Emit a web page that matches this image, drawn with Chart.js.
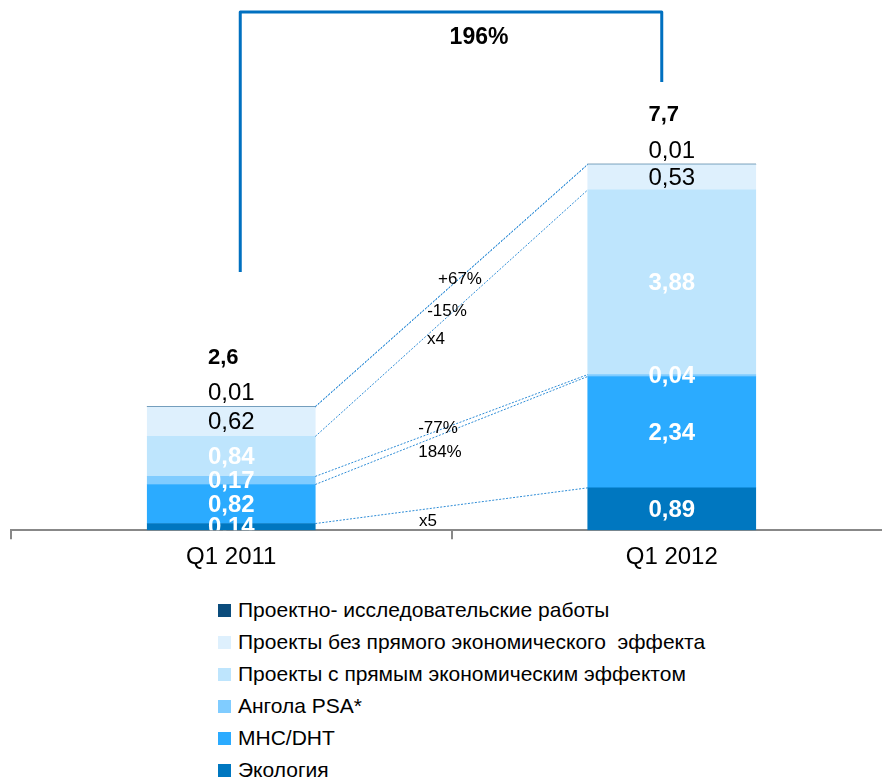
<!DOCTYPE html>
<html>
<head>
<meta charset="utf-8">
<script src="https://cdn.jsdelivr.net/npm/chart.js@4.4.1/dist/chart.umd.min.js"></script>
<style>
  html, body { margin: 0; padding: 0; background: #fff; width: 882px; height: 782px; overflow: hidden; }
  #wrap { position: absolute; left: 0; top: 0; width: 892px; height: 576px; }
  #legend { position: absolute; left: 218px; top: 594px; font-family: "Liberation Sans", Arial, sans-serif; font-size: 21px; color: #000; }
  .row { height: 32px; display: flex; align-items: center; white-space: pre; }
  .sw { width: 13px; height: 13px; margin-right: 7px; flex: none; }
</style>
</head>
<body>
<div id="wrap"><canvas id="c" width="892" height="576"></canvas></div>
<div id="legend"></div>
<script>
// ---- data ----
const categories = ['Q1 2011', 'Q1 2012'];
const seriesNames = [
  'Экология',
  'МНС/DHT',
  'Ангола PSA*',
  'Проекты с прямым экономическим эффектом',
  'Проекты без прямого экономического  эффекта',
  'Проектно- исследовательские работы'
];
const ecology   = [0.14, 0.89];
const mhcDht    = [0.82, 2.34];
const angola    = [0.17, 0.04];
const directFx  = [0.84, 3.88];
const indirectFx= [0.62, 0.53];
const research  = [0.01, 0.01];
const totalLabels = ['2,6', '7,7'];
const changeLabels = ['+67%', '-15%', 'x4', '-77%', '184%', 'x5'];
const growthLabel = '196%';
const legendOrder = [5, 4, 3, 2, 1, 0];

// ---- styles ----
const colors = ['#0077C0', '#2BABFF', '#80CCFF', '#BEE5FD', '#DEF0FD', '#0B4C7C'];
const FONT = '"Liberation Sans", Arial, sans-serif';
const changePos = [[460, 279], [447, 311], [436, 339], [438, 428], [440, 452], [428, 521]];

const seriesValues = [ecology, mhcDht, angola, directFx, indirectFx, research];

const overlay = {
  id: 'overlay',
  afterDatasetsDraw(chart) {
    const ctx = chart.ctx;
    const area = chart.chartArea;
    const metas = chart.data.datasets.map((d, i) => chart.getDatasetMeta(i));

    // connector lines between the bars
    ctx.save();
    ctx.strokeStyle = '#2E8CD6';
    ctx.lineWidth = 1;
    ctx.setLineDash([2, 1.5]);
    metas.forEach(m => {
      const a = m.data[0], b = m.data[1];
      ctx.beginPath();
      ctx.moveTo(a.x + a.width / 2, a.y);
      ctx.lineTo(b.x - b.width / 2, b.y);
      ctx.stroke();
    });
    ctx.restore();

    // change labels
    ctx.save();
    ctx.fillStyle = '#000';
    ctx.font = '17px ' + FONT;
    ctx.textAlign = 'center';
    ctx.textBaseline = 'middle';
    changeLabels.forEach((t, i) => ctx.fillText(t, changePos[i][0], changePos[i][1]));
    ctx.restore();

    // segment value labels
    ctx.save();
    ctx.beginPath();
    ctx.rect(area.left, area.top, area.right - area.left, area.bottom - area.top);
    ctx.clip();
    ctx.textAlign = 'center';
    ctx.textBaseline = 'middle';
    metas.forEach((m, i) => {
      m.data.forEach((el, j) => {
        const txt = seriesValues[i][j].toFixed(2).replace('.', ',');
        if (i === 5) {
          ctx.font = '24px ' + FONT;
          ctx.fillStyle = '#000';
          ctx.fillText(txt, el.x, el.y - 13);
        } else if (i === 4) {
          ctx.font = '24px ' + FONT;
          ctx.fillStyle = '#000';
          ctx.fillText(txt, el.x, (el.y + el.base) / 2 + 1);
        } else {
          ctx.font = 'bold 24px ' + FONT;
          ctx.fillStyle = '#fff';
          ctx.fillText(txt, el.x, (el.y + el.base) / 2 + 1);
        }
      });
    });
    ctx.restore();

    // totals
    ctx.save();
    ctx.font = 'bold 22px ' + FONT;
    ctx.fillStyle = '#000';
    ctx.textAlign = 'center';
    ctx.textBaseline = 'middle';
    const top = metas[5];
    top.data.forEach((el, j) => ctx.fillText(totalLabels[j], el.x - 8, el.y - 49));
    ctx.restore();

    // growth bracket
    const xs = chart.scales.x;
    const x1 = xs.getPixelForValue(0) + 9;
    const x2 = xs.getPixelForValue(1) - 10;
    ctx.save();
    ctx.strokeStyle = '#0070C0';
    ctx.lineWidth = 3;
    ctx.lineJoin = 'round';
    ctx.beginPath();
    ctx.moveTo(x1, 272);
    ctx.lineTo(x1, 12);
    ctx.lineTo(x2, 12);
    ctx.lineTo(x2, 82);
    ctx.stroke();
    ctx.font = 'bold 23px ' + FONT;
    ctx.fillStyle = '#000';
    ctx.textAlign = 'center';
    ctx.textBaseline = 'middle';
    ctx.fillText(growthLabel, 479, 38);
    ctx.restore();
  }
};

new Chart(document.getElementById('c'), {
  type: 'bar',
  data: {
    labels: categories,
    datasets: seriesValues.map((v, i) => ({
      label: seriesNames[i],
      data: v,
      backgroundColor: colors[i],
      borderWidth: 0,
      barThickness: 168
    }))
  },
  options: {
    responsive: false,
    animation: false,
    devicePixelRatio: 1,
    layout: { padding: { left: 11, right: 0, top: 0, bottom: 0 } },
    plugins: { legend: { display: false }, tooltip: { enabled: false } },
    scales: {
      x: {
        stacked: true,
        border: { display: true, color: '#888', width: 2 },
        grid: { display: true, drawOnChartArea: false, drawTicks: true, tickLength: 9, color: '#888', lineWidth: 2, offset: true },
        ticks: { color: '#000', font: { family: FONT, size: 24 }, padding: 4 }
      },
      y: {
        stacked: true,
        display: false,
        min: 0,
        max: 11.14
      }
    }
  },
  plugins: [overlay]
});

// legend
const lg = document.getElementById('legend');
legendOrder.forEach(i => {
  const r = document.createElement('div');
  r.className = 'row';
  const s = document.createElement('span');
  s.className = 'sw';
  s.style.background = colors[i];
  const t = document.createElement('span');
  t.textContent = seriesNames[i];
  r.appendChild(s); r.appendChild(t);
  lg.appendChild(r);
});
</script>
</body>
</html>
